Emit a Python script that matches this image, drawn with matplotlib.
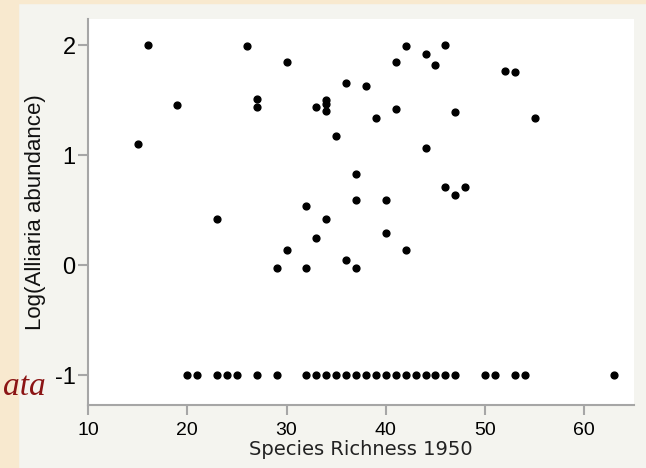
import numpy as np
import matplotlib.pyplot as plt
from matplotlib.patches import Rectangle

# species richness (1950) and log abundance of Alliaria
richness = [15, 16, 19, 23, 26, 27, 27, 29, 30, 30, 32, 32, 33, 33, 34, 34, 34, 34,
            35, 36, 36, 37, 37, 37, 38, 39, 40, 40, 41, 41, 42, 42, 44, 44, 45, 46,
            46, 47, 47, 48, 52, 53, 55]
log_abund = [1.10, 2.00, 1.46, 0.42, 1.99, 1.51, 1.44, -0.02, 1.85, 0.14, 0.54, -0.02,
             1.44, 0.25, 1.50, 1.47, 1.40, 0.42, 1.18, 1.66, 0.05, 0.83, 0.59, -0.02,
             1.63, 1.34, 0.59, 0.29, 1.85, 1.42, 1.99, 0.14, 1.92, 1.07, 1.82, 2.00,
             0.71, 1.39, 0.64, 0.71, 1.77, 1.76, 1.34]

# plots with no Alliaria (plotted at -1)
richness_absent = [20, 21, 23, 24, 25, 27, 29, 32, 33, 34, 35, 36, 37, 38, 39, 40,
                   41, 42, 43, 44, 45, 46, 47, 50, 51, 53, 54, 63]
log_absent = [-1] * len(richness_absent)

xticks = [10, 20, 30, 40, 50, 60]
yticks = [-1, 0, 1, 2]

fig = plt.figure(figsize=(6.46, 4.68), dpi=100, facecolor='#f4f4ef')
# parchment strips from the slide behind
fig.patches.append(Rectangle((0, 0), 18/646, 1, transform=fig.transFigure,
                             color='#f8e9cf', zorder=0))
fig.patches.append(Rectangle((0, 1 - 3/468), 1, 3/468, transform=fig.transFigure,
                             color='#f8e9cf', zorder=0))

ax = fig.add_axes([88/646, 63/468, 546/646, 386/468])
ax.set_facecolor('white')

ax.scatter(richness, log_abund, s=24, color='black', zorder=3)
ax.scatter(richness_absent, log_absent, s=24, color='black', zorder=3)

ax.set_xlim(10, 65)
ax.set_ylim(-1.27, 2.24)
ax.set_xticks(xticks)
ax.set_yticks(yticks)
ax.set_xticklabels([str(t) for t in xticks], family='Liberation Sans', fontsize=14)
ax.set_yticklabels([str(t) for t in yticks], family='Liberation Sans', fontsize=17)

for s in ['top', 'right']:
    ax.spines[s].set_visible(False)
for s in ['left', 'bottom']:
    ax.spines[s].set_color('#a6a6a6')
    ax.spines[s].set_linewidth(1.5)
ax.tick_params(axis='x', color='#a6a6a6', width=1.5, length=7, pad=5)
ax.tick_params(axis='y', color='#a6a6a6', width=1.5, length=7, pad=2)

ax.set_xlabel('Species Richness 1950', family='DejaVu Sans', fontsize=14,
              color='#222222', labelpad=1)
ax.set_ylabel('Log(Alliaria abundance)', family='Liberation Sans', fontsize=16,
              color='#111111', labelpad=6)

fig.text(46/646, 73/468, 'ata', family='Liberation Serif', style='italic',
         fontsize=24, color='#8b1414', ha='right', va='baseline')

fig.savefig('out.png', dpi=100, facecolor=fig.get_facecolor())
plt.close()
